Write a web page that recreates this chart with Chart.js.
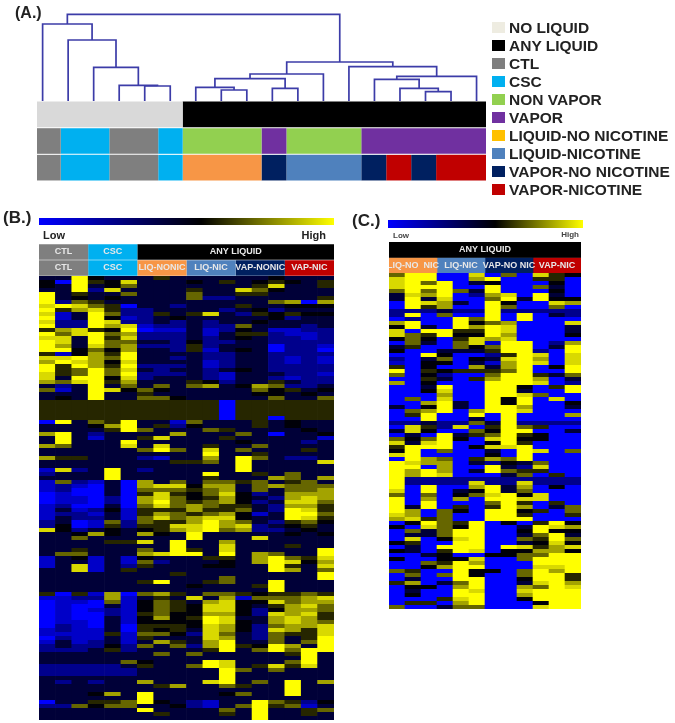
<!DOCTYPE html>
<html>
<head>
<meta charset="utf-8">
<title>Heatmaps</title>
<script src="https://cdn.jsdelivr.net/npm/chart.js@4"></script>
<style>
  body { margin: 0; background: #fff; font-family: "Liberation Sans", Arial, sans-serif; }
  #page { position: relative; width: 675px; height: 723px; overflow: hidden; }
  canvas { position: absolute; filter: blur(0.7px); }
  .txt { position: absolute; font-weight: bold; white-space: nowrap; color: #222; filter: blur(0.3px); line-height: 1; }
  .swatch { position: absolute; width: 13px; height: 11px; filter: blur(0.4px); }
</style>
</head>
<body>
<div id="page"></div>
<script>
// legend
const legendNames = ["NO LIQUID", "ANY LIQUID", "CTL", "CSC", "NON VAPOR", "VAPOR",
  "LIQUID-NO NICOTINE", "LIQUID-NICOTINE", "VAPOR-NO NICOTINE", "VAPOR-NICOTINE"];
const legendColors = ["#eeece1", "#000000", "#7f7f7f", "#00b0f0", "#92d050", "#7030a0",
  "#ffc000", "#4f81bd", "#002060", "#c00000"];

// dendrogram, scipy style: an id from 18 up means merge number id-18
const mergeLeft = [4, 3, 2, 1, 0, 7, 6, 9, 24, 26, 15, 14, 13, 30, 12, 27, 22];
const mergeRight = [5, 18, 19, 20, 21, 8, 23, 10, 25, 11, 16, 28, 29, 17, 31, 32, 33];
const mergeHeight = [15, 15.7, 33.7, 61, 77, 11, 13.7, 12.7, 22.3, 27, 9.3, 12.7, 21.7, 24.7, 34.3, 39, 86.7];

// sample annotation tracks under the dendrogram
const trackLiquid = ["nl", "al"];
const trackLiquidEdges = [0, 5.84, 18];
const trackVapor = ["ctl", "csc", "ctl", "csc", "nv", "v", "nv", "v"];
const trackVaporEdges = [0, 0.95, 2.9, 4.86, 5.84, 9, 10, 13, 18];
const trackType = ["ctl", "csc", "ctl", "csc", "ln", "vn", "lz", "vn", "vz", "vn", "vz"];
const trackTypeEdges = [0, 0.95, 2.9, 4.86, 5.84, 9, 10, 13, 14, 15, 16, 18];

const trackColors = { nl: "#d9d9d9", al: "#000000", ctl: "#7f7f7f", csc: "#00b0f0", nv: "#92d050",
  v: "#7030a0", ln: "#f79646", lz: "#4f81bd", vn: "#002060", vz: "#c00000" };

// heatmap headers
const headB1 = ["CTL", "CSC", "ANY LIQUID"];
const headB1Keys = ["ctl", "csc", "al"];
const headB1Edges = [0, 3, 6, 18];
const headB2 = ["CTL", "CSC", "LIQ-NONIC", "LIQ-NIC", "VAP-NONIC", "VAP-NIC"];
const headB2Keys = ["ctl", "csc", "ln", "lz", "vn", "vz"];
const headB2Edges = [0, 3, 6, 9, 12, 15, 18];
const headC1 = ["ANY LIQUID"];
const headC1Keys = ["al"];
const headC1Edges = [0, 12];
const headC2 = ["LIQ-NO  NIC", "LIQ-NIC", "VAP-NO NIC", "VAP-NIC"];
const headC2Keys = ["ln", "lz", "vn", "vz"];
const headC2Edges = [0, 3, 6, 9, 12];

// heat levels 0 (low) to 9 (high), one string per gene, spaces only split the sample groups
const heatB = [
  "339 433 353 333 334 333", "409 548 333 435 345 435", "439 346 333 333 358 335",
  "339 283 333 533 864 333", "935 336 333 633 553 333", "934 343 333 622 333 335",
  "926 533 333 333 336 707", "898 650 332 333 533 444", "957 852 233 332 342 333",
  "813 962 253 583 254 544", "913 941 234 333 334 233", "822 982 232 323 343 333",
  "922 978 122 322 633 323", "578 549 011 312 431 122", "968 967 222 313 552 112",
  "883 958 222 323 432 212", "983 966 332 422 332 222", "973 867 222 523 330 221",
  "994 647 332 513 430 220", "514 759 333 322 332 222", "889 769 332 322 332 121",
  "798 748 333 312 332 121", "959 759 222 312 332 222", "956 968 323 323 432 222",
  "856 969 222 321 333 221", "839 948 233 321 332 122", "768 957 333 542 335 322",
  "323 936 363 673 476 223", "613 984 643 333 364 534", "333 933 533 333 344 343",
  "343 933 664 333 336 336", "555 555 555 550 555 555", "555 555 555 550 555 555",
  "555 555 555 550 555 555", "555 555 555 550 555 555", "555 555 555 550 550 555",
  "093 659 331 633 353 433", "333 479 352 433 353 433", "333 359 633 365 333 343",
  "793 233 337 333 630 334", "393 133 583 335 333 331", "393 339 333 333 433 323",
  "763 338 383 353 363 333", "333 333 696 383 633 353", "333 333 333 393 353 333",
  "755 333 213 373 963 223", "333 333 335 563 933 338", "333 333 333 333 933 333",
  "182 393 233 333 933 333", "233 393 333 393 353 633", "333 393 333 353 337 637",
  "162 130 736 366 563 563", "121 030 788 477 367 666", "120 030 666 567 363 667",
  "010 030 585 468 423 777", "011 020 786 457 432 787", "011 020 796 567 423 886",
  "120 030 686 765 532 775", "131 241 555 755 632 985", "122 131 576 567 413 996",
  "132 231 686 788 433 985", "230 162 655 797 632 564", "240 152 558 897 823 453",
  "842 343 457 896 722 343", "334 743 743 933 333 434", "336 333 333 933 383 333",
  "333 355 839 337 333 333", "333 333 339 338 333 533", "335 333 639 538 333 339",
  "366 333 789 939 376 339", "134 131 433 355 379 658", "133 131 623 334 379 847",
  "138 132 533 344 339 538", "338 135 333 333 339 736", "333 333 335 333 333 339",
  "333 333 333 336 333 339", "333 333 593 356 339 333", "333 333 333 433 359 333",
  "333 333 333 333 339 333", "505 170 675 366 545 565", "112 271 353 837 166 678",
  "011 061 465 378 448 677", "010 031 465 488 435 786", "010 121 465 488 424 776",
  "010 021 564 477 428 785", "010 031 474 598 337 875", "011 031 444 498 437 876",
  "021 030 555 487 426 778", "121 130 545 387 428 758", "111 151 664 286 326 558",
  "021 131 533 387 326 359", "131 231 375 379 336 369", "232 242 636 279 549 739",
  "222 352 333 359 369 699", "333 333 363 633 333 593", "333 333 333 333 333 393",
  "333 336 433 398 333 693", "222 223 533 698 358 583", "222 222 333 339 636 333",
  "222 222 333 339 333 333", "333 333 333 339 333 333", "323 233 733 389 363 937",
  "333 333 357 336 533 933", "333 333 333 333 333 933", "333 473 933 334 633 933",
  "333 333 933 333 333 333", "033 556 943 213 396 524", "226 466 334 213 695 613",
  "333 333 933 336 393 356", "333 333 353 335 393 353", "333 333 333 333 393 333"
];

const heatC = [
  "699 008 060 854", "899 007 900 550", "896 903 400 040", "899 900 900 630",
  "696 963 900 040", "387 902 780 930", "393 800 693 944", "098 730 940 087",
  "095 700 960 060", "222 322 922 222", "290 600 909 032", "020 096 909 000",
  "790 094 670 008", "493 097 980 003", "809 955 980 003", "865 944 970 004",
  "464 058 780 000", "063 068 199 027", "350 064 699 039", "400 333 599 209",
  "009 400 259 808", "203 604 389 708", "104 403 179 808", "504 007 379 049",
  "905 455 569 009", "604 200 699 536", "005 305 799 703", "704 000 999 802",
  "003 900 994 059", "004 800 993 009", "000 700 998 600", "060 800 949 080",
  "007 930 949 004", "304 930 997 003", "067 907 998 000", "059 009 090 007",
  "009 003 090 000", "223 226 392 222", "085 280 596 500", "384 006 499 003",
  "030 935 695 400", "646 940 894 400", "838 900 495 000", "599 904 889 000",
  "490 600 309 806", "890 000 409 000", "097 605 769 000", "987 703 243 600",
  "990 700 932 800", "979 703 965 500", "979 800 036 050", "922 222 222 222",
  "922 228 228 222", "909 007 937 040", "809 034 936 000", "606 046 894 800",
  "907 070 998 800", "909 000 695 050", "939 050 597 036", "970 640 994 506",
  "870 600 995 005", "785 600 999 000", "049 659 040 594", "408 649 003 987",
  "063 699 004 944", "033 699 003 693", "080 489 006 596", "450 099 003 484",
  "030 999 098 578", "430 598 044 774", "003 400 446 699", "400 448 006 999",
  "006 597 000 999", "004 799 000 889", "650 094 406 979", "060 694 006 995",
  "030 099 004 995", "570 369 003 897", "044 079 007 698", "030 098 008 999",
  "040 099 007 999", "000 589 004 999", "055 079 000 499", "600 366 000 899"
];

const heatLevels = ["#0000ff", "#0000c8", "#00008c", "#000038", "#000008",
  "#262600", "#666600", "#a3a300", "#d9d900", "#ffff00"];

Chart.defaults.animation = false;
Chart.defaults.responsive = false;
Chart.defaults.plugins.legend.display = false;
Chart.defaults.plugins.tooltip.enabled = false;

const page = document.getElementById("page");

function addCanvas(x, y, w, h) {
  const c = document.createElement("canvas");
  c.width = w;
  c.height = h;
  c.style.left = x + "px";
  c.style.top = y + "px";
  page.appendChild(c);
  return c;
}

function addText(text, x, y, size, color, right) {
  const d = document.createElement("div");
  d.className = "txt";
  d.textContent = text;
  d.style.top = y + "px";
  d.style.fontSize = size + "px";
  if (right) d.style.right = (675 - x) + "px";
  else d.style.left = x + "px";
  if (color) d.style.color = color;
  page.appendChild(d);
}

// dendrogram
function mergeX(id) {
  if (id < 18) return id;
  return (mergeX(mergeLeft[id - 18]) + mergeX(mergeRight[id - 18])) / 2;
}
function mergeH(id) {
  return id < 18 ? 0 : mergeHeight[id - 18];
}

new Chart(addCanvas(37, 0, 449, 101), {
  type: "scatter",
  data: {
    datasets: mergeHeight.map((h, i) => {
      const a = mergeLeft[i], b = mergeRight[i];
      return {
        data: [
          { x: mergeX(a), y: mergeH(a) },
          { x: mergeX(a), y: h },
          { x: mergeX(b), y: h },
          { x: mergeX(b), y: mergeH(b) }
        ],
        showLine: true,
        borderColor: "#3c3ca8",
        borderWidth: 1.7,
        pointRadius: 0,
        tension: 0
      };
    })
  },
  options: {
    scales: {
      x: { type: "linear", display: false, min: -0.22, max: 17.37 },
      y: { display: false, min: 0, max: 101 }
    }
  }
});

// floating horizontal bars for tracks and header bands
function segmentChart(box, rows, barPct, font) {
  const datasets = [];
  rows.forEach((row, r) => {
    row.keys.forEach((k, i) => {
      datasets.push({
        data: rows.map((_, j) => (j === r ? [row.edges[i], row.edges[i + 1]] : null)),
        backgroundColor: trackColors[k],
        text: row.names ? row.names[i] : null,
        row: r,
        grouped: false,
        barPercentage: barPct,
        categoryPercentage: 1
      });
    });
  });
  const last = rows[0].edges[rows[0].edges.length - 1];
  return new Chart(addCanvas(box[0], box[1], box[2], box[3]), {
    type: "bar",
    data: { labels: rows.map((_, i) => "row" + i), datasets },
    options: {
      indexAxis: "y",
      scales: {
        x: { type: "linear", display: false, min: 0, max: last },
        y: { display: false }
      }
    },
    plugins: [{
      id: "segLabels",
      afterDatasetsDraw(chart) {
        const ctx = chart.ctx;
        ctx.save();
        ctx.font = font;
        ctx.fillStyle = "#e8e8e8";
        ctx.textAlign = "center";
        ctx.textBaseline = "middle";
        chart.data.datasets.forEach((ds, i) => {
          if (!ds.text) return;
          const bar = chart.getDatasetMeta(i).data[ds.row];
          ctx.fillText(ds.text, (bar.x + bar.base) / 2, bar.y);
        });
        ctx.restore();
      }
    }]
  });
}

segmentChart([37, 101, 449, 80], [
  { keys: trackLiquid, edges: trackLiquidEdges },
  { keys: trackVapor, edges: trackVaporEdges },
  { keys: trackType, edges: trackTypeEdges }
], 0.96, 'bold 9px "Liberation Sans"');

segmentChart([39, 244, 295, 32], [
  { keys: headB1Keys, edges: headB1Edges, names: headB1 },
  { keys: headB2Keys, edges: headB2Edges, names: headB2 }
], 0.97, 'bold 9px "Liberation Sans"');

segmentChart([389, 242, 192, 31], [
  { keys: headC1Keys, edges: headC1Edges, names: headC1 },
  { keys: headC2Keys, edges: headC2Edges, names: headC2 }
], 1, 'bold 9px "Liberation Sans"');

// colour key bars
function colorKey(box) {
  new Chart(addCanvas(box[0], box[1], box[2], box[3]), {
    type: "bar",
    data: {
      labels: ["key"],
      datasets: [{
        data: [[0, 9]],
        barPercentage: 1,
        categoryPercentage: 1,
        backgroundColor(c) {
          const a = c.chart.chartArea;
          if (!a) return "#000";
          const g = c.chart.ctx.createLinearGradient(a.left, 0, a.right, 0);
          g.addColorStop(0, "#0000ff");
          g.addColorStop(0.55, "#000000");
          g.addColorStop(1, "#ffff00");
          return g;
        }
      }]
    },
    options: {
      indexAxis: "y",
      scales: {
        x: { type: "linear", display: false, min: 0, max: 9 },
        y: { display: false }
      }
    }
  });
}
colorKey([39, 218, 295, 7]);
colorKey([388, 220, 195, 8]);

// heatmaps: one dataset per gene, one floating bar per sample
function heatmap(box, rows) {
  const table = rows.map(r => r.replace(/ /g, "").split("").map(Number));
  const cols = table[0].map((_, i) => "S" + (i + 1));
  new Chart(addCanvas(box[0], box[1], box[2], box[3]), {
    type: "bar",
    data: {
      labels: cols,
      datasets: table.map((vals, r) => ({
        data: vals.map(() => [r, r + 1]),
        backgroundColor: vals.map(v => heatLevels[v]),
        grouped: false,
        barPercentage: 1.04,
        categoryPercentage: 1
      }))
    },
    options: {
      scales: {
        x: { display: false },
        y: { type: "linear", display: false, reverse: true, min: 0, max: table.length }
      }
    }
  });
}
heatmap([39, 276, 295, 444], heatB);
heatmap([389, 273, 192, 336], heatC);

// legend
legendNames.forEach((name, i) => {
  const y = 21.7 + i * 18;
  const s = document.createElement("div");
  s.className = "swatch";
  s.style.left = "492px";
  s.style.top = y + "px";
  s.style.background = legendColors[i];
  page.appendChild(s);
  addText(name, 509, y - 2, 15.5);
});

// panel labels and key ends
addText("(A.)", 15, 5, 16);
addText("(B.)", 3, 209, 17);
addText("(C.)", 352, 212, 17);
addText("Low", 43, 230, 11);
addText("High", 326, 230, 11, null, true);
addText("Low", 393, 232, 8, "#444");
addText("High", 579, 231, 8, "#444", true);
</script>
</body>
</html>
